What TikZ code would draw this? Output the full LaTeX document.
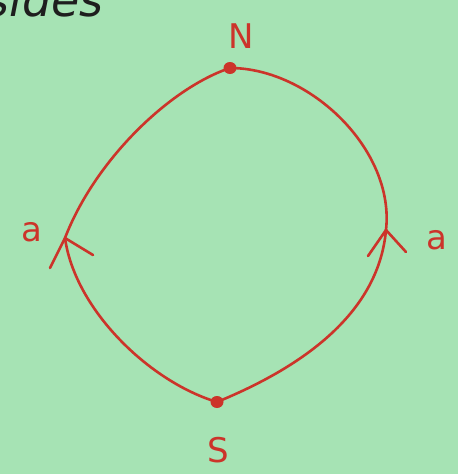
\documentclass[tikz,border=0pt]{standalone}
\usepackage{fontspec}
\usetikzlibrary{shapes.geometric}
\setmainfont{DejaVu Sans}
\definecolor{paper}{RGB}{166,227,180}
\definecolor{pen}{RGB}{204,52,42}
\definecolor{ink}{RGB}{30,30,30}
\begin{document}
\begin{tikzpicture}[x=1pt,y=-1pt,
  curve/.style={pen,line width=2.6pt,line cap=round,line join=round},
  dot/.style={ellipse,fill=pen,inner sep=0pt,minimum width=13pt,minimum height=12pt},
  lbl/.style={text=pen,font=\fontsize{34}{34}\selectfont}]
\fill[paper] (0,0) rectangle (458,474);
\useasboundingbox (0,0) rectangle (458,474);
\begin{scope}
\clip (0,0) rectangle (458,474);
\node[text=ink,font=\fontsize{46}{46}\selectfont\itshape,anchor=base west] (top) at (-18,16) {sides};
\end{scope}
\node[dot] (N) at (230,68) {};
\node[dot] (S) at (217,402) {};
\coordinate (L) at (65,238);
\coordinate (R) at (386,230);
\draw[curve] (N.center) .. controls (170,88) and (95,160) .. (L);
\draw[curve] (L) .. controls (75,310) and (150,382) .. (S.center);
\draw[curve] (S.center) .. controls (290,372) and (378,320) .. (R);
\draw[curve] (R) .. controls (395,150) and (310,68) .. (N.center);
% arrowheads
\coordinate (la1) at (50,268);
\coordinate (la2) at (93,255);
\coordinate (ra1) at (368,256);
\coordinate (ra2) at (406,252);
\draw[curve] (la1) -- (L) -- (la2);
\draw[curve] (ra1) -- (R) -- (ra2);
\node[lbl] (lN) at (241,36) {N};
\node[lbl] (lS) at (218,450) {S};
\node[lbl] (la) at (32,232) {a};
\node[lbl] (ra) at (437,240) {a};
\end{tikzpicture}
\end{document}
